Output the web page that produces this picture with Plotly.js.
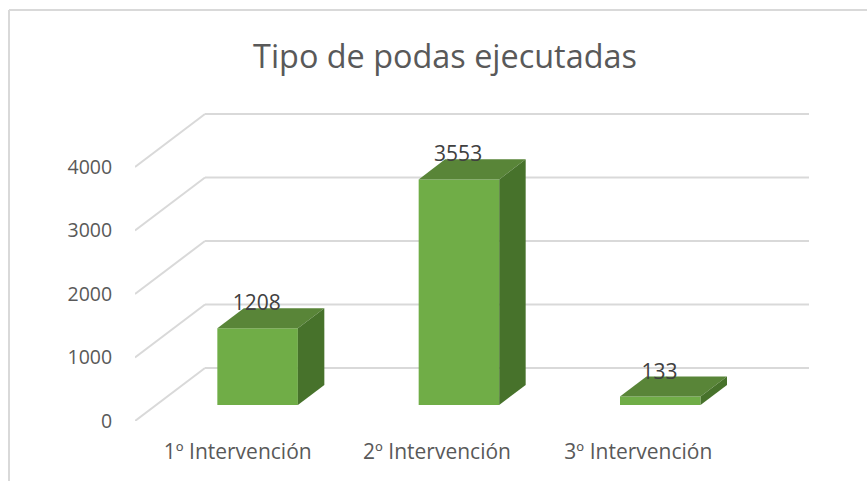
<!DOCTYPE html>
<html><head><meta charset="utf-8">
<script src="https://cdn.plot.ly/plotly-3.0.1.min.js"></script>
<style>html,body{margin:0;padding:0;background:#fff}</style></head>
<body><div id="chart" style="width:867px;height:481px"></div>
<script>
const categories = ["1º Intervención", "2º Intervención", "3º Intervención"];
const values = [1208, 3553, 133];
const yTicks = [0, 1000, 2000, 3000, 4000];
const titleText = "Tipo de podas ejecutadas";

// oblique projection of the 3-D column chart onto the 2-D axes
const W = 867, H = 481, L = 135, B = 60;
const pxPerCat = 201.33, pxPerVal = 0.0635;
const depthX = 70 / pxPerCat, depthY = 53 / pxPerVal;
const zFront = 0.302, zBack = 0.68, barW = 0.4;
const px = (x, z) => x + z * depthX;
const py = (y, z) => y + z * depthY;

const xRange = [-0.5, -0.5 + (W - L) / pxPerCat];
const yRange = [0, (H - B) / pxPerVal];
const paperX = p => (p - L) / (W - L);
const paperY = p => (H - B - p) / (H - B);
const FONT = "'Open Sans', sans-serif";

const faceLine = {width: 0};
function poly(xs, ys, color) {
  return {type: "scatter", mode: "lines", x: xs, y: ys, fill: "toself", fillcolor: color,
          line: faceLine, hoverinfo: "skip", showlegend: false};
}
const traces = [];
traces.push({type: "bar", x: categories.map((c, i) => px(i, zFront) + 0.004), y: values,
  base: values.map(() => py(0, zFront)), width: barW, marker: {color: "#70AD47", line: {width: 0}},
  showlegend: false, hoverinfo: "skip"});
values.forEach((v, i) => {
  const xl = i - barW / 2 + 0.004, xr = i + barW / 2 + 0.004;
  traces.push(poly(
    [px(xl, zFront), px(xr, zFront), px(xr, zBack), px(xl, zBack), px(xl, zFront)],
    [py(v, zFront), py(v, zFront), py(v, zBack), py(v, zBack), py(v, zFront)], "#598538"));
  traces.push(poly(
    [px(xr, zFront), px(xr, zBack), px(xr, zBack), px(xr, zFront), px(xr, zFront)],
    [py(0, zFront), py(0, zBack), py(v, zBack), py(v, zFront), py(0, zFront)], "#47722B"));
});
traces.push({type: "scatter", mode: "text", x: categories.map((c, i) => px(i, zFront)),
  y: values.map(v => py(v, zFront) + 365), text: values.map(String), textposition: "middle center",
  textfont: {family: FONT, size: 21, color: "#404040"},
  hoverinfo: "skip", showlegend: false, cliponaxis: false});

const gridStyle = {color: "#D9D9D9", width: 2};
const shapes = [];
yTicks.forEach(t => {
  shapes.push({type: "line", xref: "x", yref: "y", layer: "below", line: gridStyle,
    x0: px(-0.5, 0), y0: py(t, 0), x1: px(-0.5, 1), y1: py(t, 1)});
  shapes.push({type: "line", xref: "x", yref: "y", layer: "below", line: gridStyle,
    x0: px(-0.5, 1), y0: py(t, 1), x1: px(2.5, 1), y1: py(t, 1)});
});
shapes.push({type: "line", xref: "paper", yref: "paper", layer: "below", line: {color: "#D9D9D9", width: 2},
  x0: paperX(9), y0: paperY(10), x1: paperX(867), y1: paperY(10)});
shapes.push({type: "line", xref: "paper", yref: "paper", layer: "below", line: {color: "#D9D9D9", width: 2},
  x0: paperX(9), y0: paperY(10), x1: paperX(9), y1: paperY(481)});

const layout = {
  width: W, height: H, margin: {l: L, r: 0, t: 0, b: B}, showlegend: false,
  paper_bgcolor: "#fff", plot_bgcolor: "rgba(0,0,0,0)",
  title: {text: titleText, font: {family: FONT, size: 32.4, color: "#595959"},
          x: 445 / W, xanchor: "center", y: 1 - 57 / H, yanchor: "middle"},
  xaxis: {range: xRange, tickmode: "array", tickvals: [0.01, 1, 2], ticktext: categories, showgrid: false,
          zeroline: false, showline: false, ticks: "outside", ticklen: 12, tickcolor: "rgba(0,0,0,0)",
          tickfont: {family: FONT, size: 21, color: "#595959"}},
  yaxis: {range: yRange, tickmode: "array", tickvals: yTicks, ticktext: yTicks.map(String), showgrid: false,
          zeroline: false, showline: false, ticks: "outside", ticklen: 18, tickcolor: "rgba(0,0,0,0)",
          tickfont: {family: FONT, size: 19.5, color: "#595959"}},
  shapes: shapes
};
Plotly.newPlot("chart", traces, layout, {displayModeBar: false, staticPlot: true});
</script></body></html>
